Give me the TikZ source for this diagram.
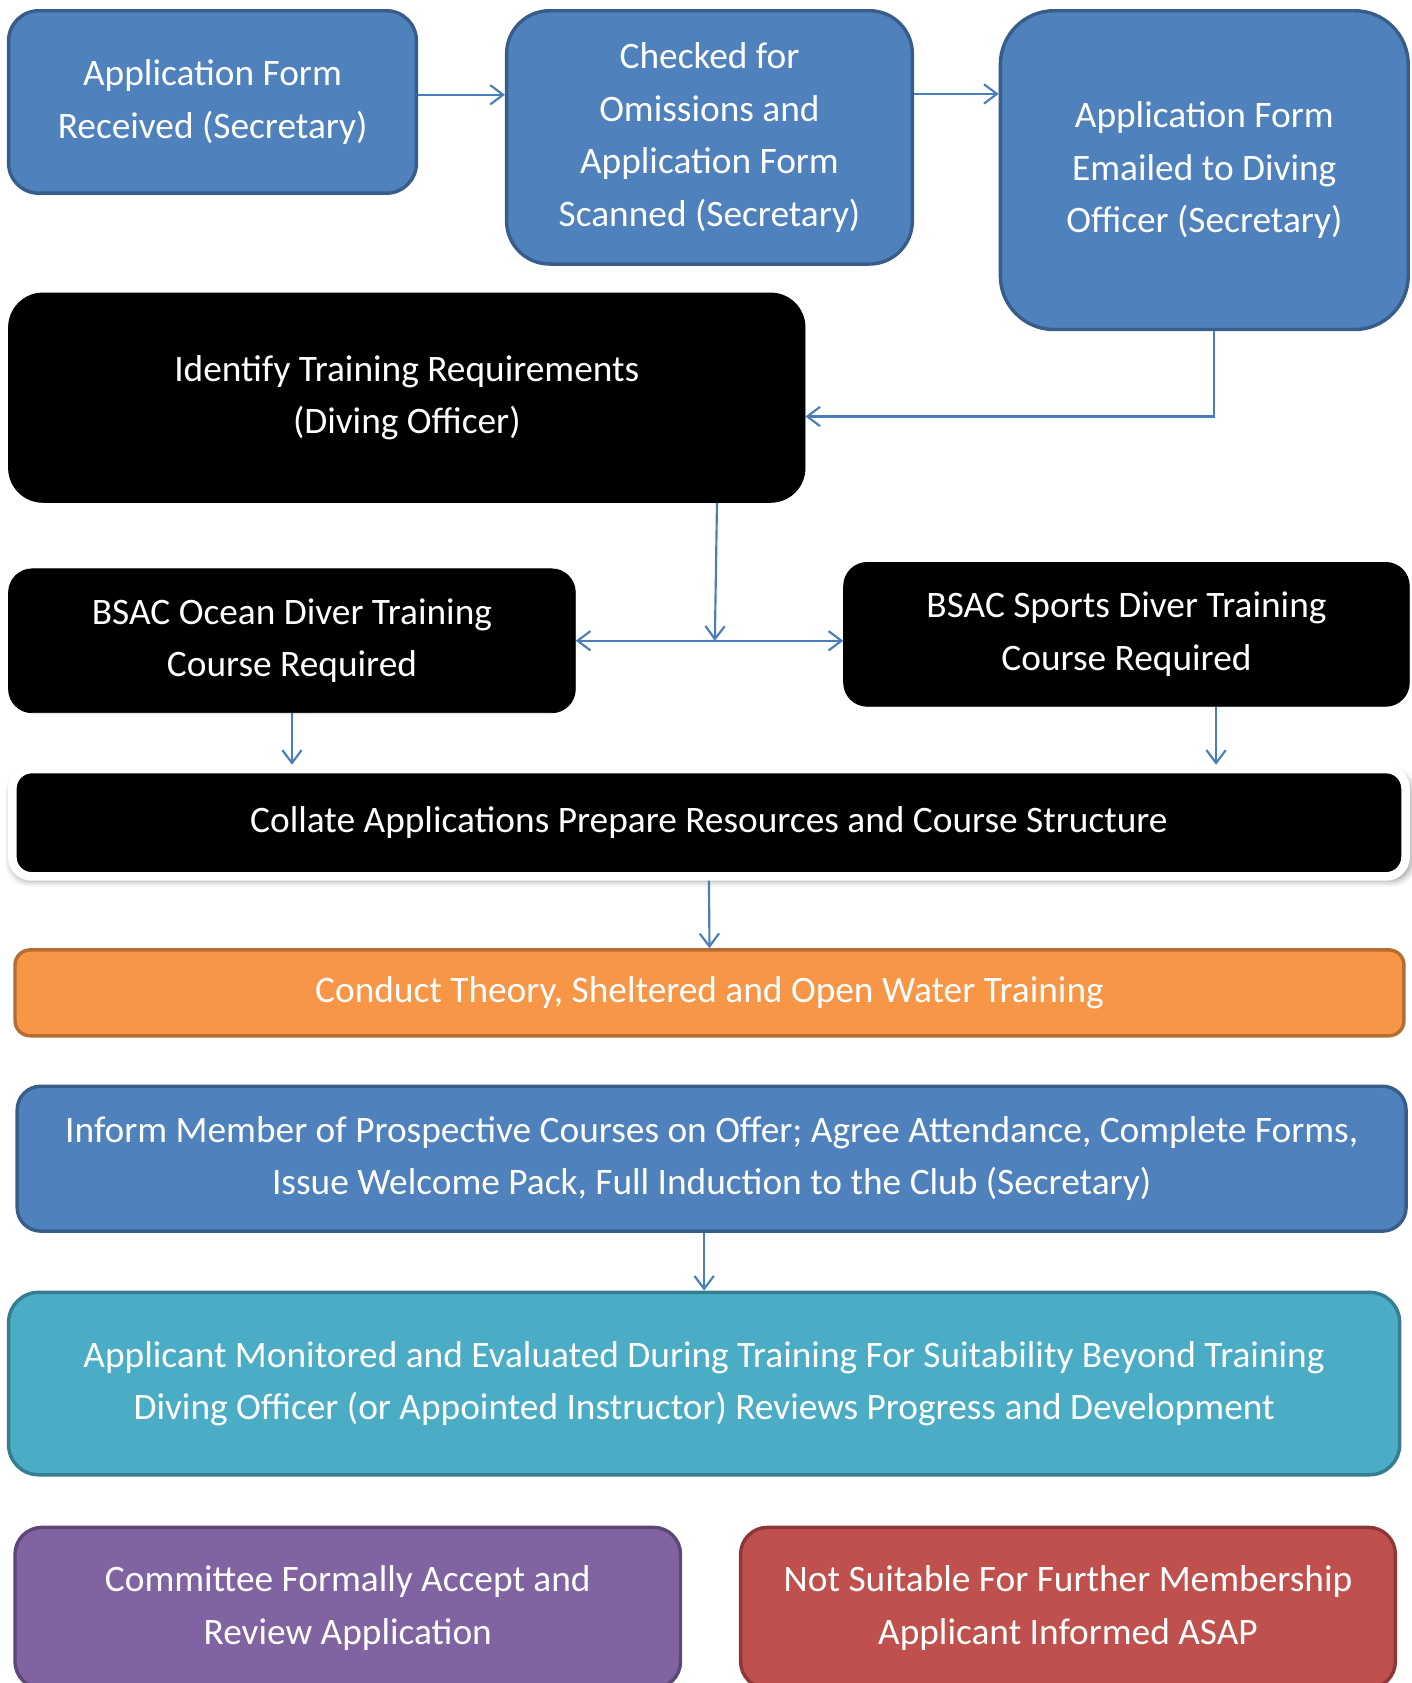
\documentclass[tikz,border=0pt]{standalone}
\usepackage{fontspec}
\setmainfont{Carlito}
\usetikzlibrary{arrows.meta}
\usetikzlibrary{shadows.blur}
\definecolor{BlueFill}{HTML}{4F81BD}
\definecolor{BlueLine}{HTML}{385D8A}
\definecolor{OrangeFill}{HTML}{F79646}
\definecolor{OrangeLine}{HTML}{B66D31}
\definecolor{TealFill}{HTML}{4BACC6}
\definecolor{TealLine}{HTML}{357D91}
\definecolor{PurpleFill}{HTML}{8064A2}
\definecolor{PurpleLine}{HTML}{5C4776}
\definecolor{RedFill}{HTML}{C0504D}
\definecolor{RedLine}{HTML}{8C3836}
\definecolor{ArrowBlue}{HTML}{4A7EBB}
\tikzstyle{BoxNode}=[rectangle, draw, line width=1.6pt, inner sep=0pt, align=center, text=white, font=\fontsize{17.4}{24.5}\selectfont]
\tikzstyle{BlueNode}=[BoxNode, fill=BlueFill, draw=BlueLine]
\tikzstyle{BlackNode}=[BoxNode, fill=black, draw=black, line width=0.4pt]
\tikzstyle{FramedNode}=[BlackNode, draw=white, line width=4pt, blur shadow={shadow xshift=1pt, shadow yshift=-2pt, shadow blur radius=3pt, shadow opacity=40, shadow scale=1.005}]
\tikzstyle{OrangeNode}=[BoxNode, fill=OrangeFill, draw=OrangeLine]
\tikzstyle{TealNode}=[BoxNode, fill=TealFill, draw=TealLine]
\tikzstyle{PurpleNode}=[BoxNode, fill=PurpleFill, draw=PurpleLine]
\tikzstyle{RedNode}=[BoxNode, fill=RedFill, draw=RedLine]
\tikzstyle{FlowEdge}=[->, line width=1pt, draw=ArrowBlue]
\tikzstyle{BothEdge}=[FlowEdge, <->]
\tikzset{>={Straight Barb[length=6pt,width=9pt]}}

\begin{document}
\begin{tikzpicture}[x=0.5pt, y=-0.5pt]
\useasboundingbox (0,0) rectangle (1315,1568);

\node[BlueNode, minimum width=190pt, minimum height=85pt, rounded corners=14pt](Received) at (198,95) {Application Form\\Received (Secretary)};
\node[BlueNode, minimum width=189pt, minimum height=118pt, rounded corners=20pt](Checked) at (661,128) {Checked for\\Omissions and\\Application Form\\Scanned (Secretary)};
\node[BlueNode, minimum width=190pt, minimum height=148.5pt, rounded corners=25pt](Emailed) at (1122,158.5) {Application Form\\Emailed to Diving\\Officer (Secretary)};
\node[BlackNode, minimum width=371pt, minimum height=97.5pt, rounded corners=16pt](Identify) at (379,370.5) {Identify Training Requirements\\(Diving Officer)};
\node[BlackNode, minimum width=264pt, minimum height=67pt, rounded corners=11pt](Ocean) at (272,597) {BSAC Ocean Diver Training\\Course Required};
\node[BlackNode, minimum width=263.5pt, minimum height=67pt, rounded corners=11pt](Sports) at (1049.5,591) {BSAC Sports Diver Training\\Course Required};
\node[FramedNode, minimum width=649pt, minimum height=50pt, rounded corners=9pt](Collate) at (660.5,766.5) {Collate Applications Prepare Resources and Course Structure};
\node[OrangeNode, minimum width=647pt, minimum height=40pt, rounded corners=7pt](Conduct) at (661,925) {Conduct Theory, Sheltered and Open Water Training};
\node[BlueNode, minimum width=647pt, minimum height=67.5pt, rounded corners=11pt](Inform) at (663,1079.5) {Inform Member of Prospective Courses on Offer; Agree Attendance, Complete Forms,\\Issue Welcome Pack, Full Induction to the Club (Secretary)};
\node[TealNode, minimum width=648pt, minimum height=85pt, rounded corners=14pt](Monitor) at (656,1289) {Applicant Monitored and Evaluated During Training For Suitability Beyond Training\\Diving Officer (or Appointed Instructor) Reviews Progress and Development};
\node[PurpleNode, minimum width=310pt, minimum height=75pt, rounded corners=12.5pt](Accept) at (324,1498) {Committee Formally Accept and\\Review Application};
\node[RedNode, minimum width=305pt, minimum height=75pt, rounded corners=12.5pt](Reject) at (995,1498) {Not Suitable For Further Membership\\Applicant Informed ASAP};

\coordinate (Split) at (666,597);
\coordinate (IdentifyOut) at ([xshift=144.5pt]Identify.south);
\coordinate (SportsOut) at ([xshift=41.75pt]Sports.south);

\draw[FlowEdge](Received.2) -- (Received.2 -| Checked.west);
\draw[FlowEdge](Checked.12) -- (Checked.12 -| Emailed.west);
\draw[FlowEdge]([xshift=4.5pt]Emailed.south) |- ([yshift=-8.75pt]Identify.east);
\draw[FlowEdge](IdentifyOut) -- (Split);
\draw[BothEdge](Ocean.east |- Split) -- (Sports.west |- Split);
\draw[FlowEdge](Ocean.south) -- (Ocean.south |- Collate.north);
\draw[FlowEdge](SportsOut) -- (SportsOut |- Collate.north);
\draw[FlowEdge](Collate.south) -- (Conduct.north);
\draw[FlowEdge](Monitor.north |- Inform.south) -- (Monitor.north);
\end{tikzpicture}
\end{document}
